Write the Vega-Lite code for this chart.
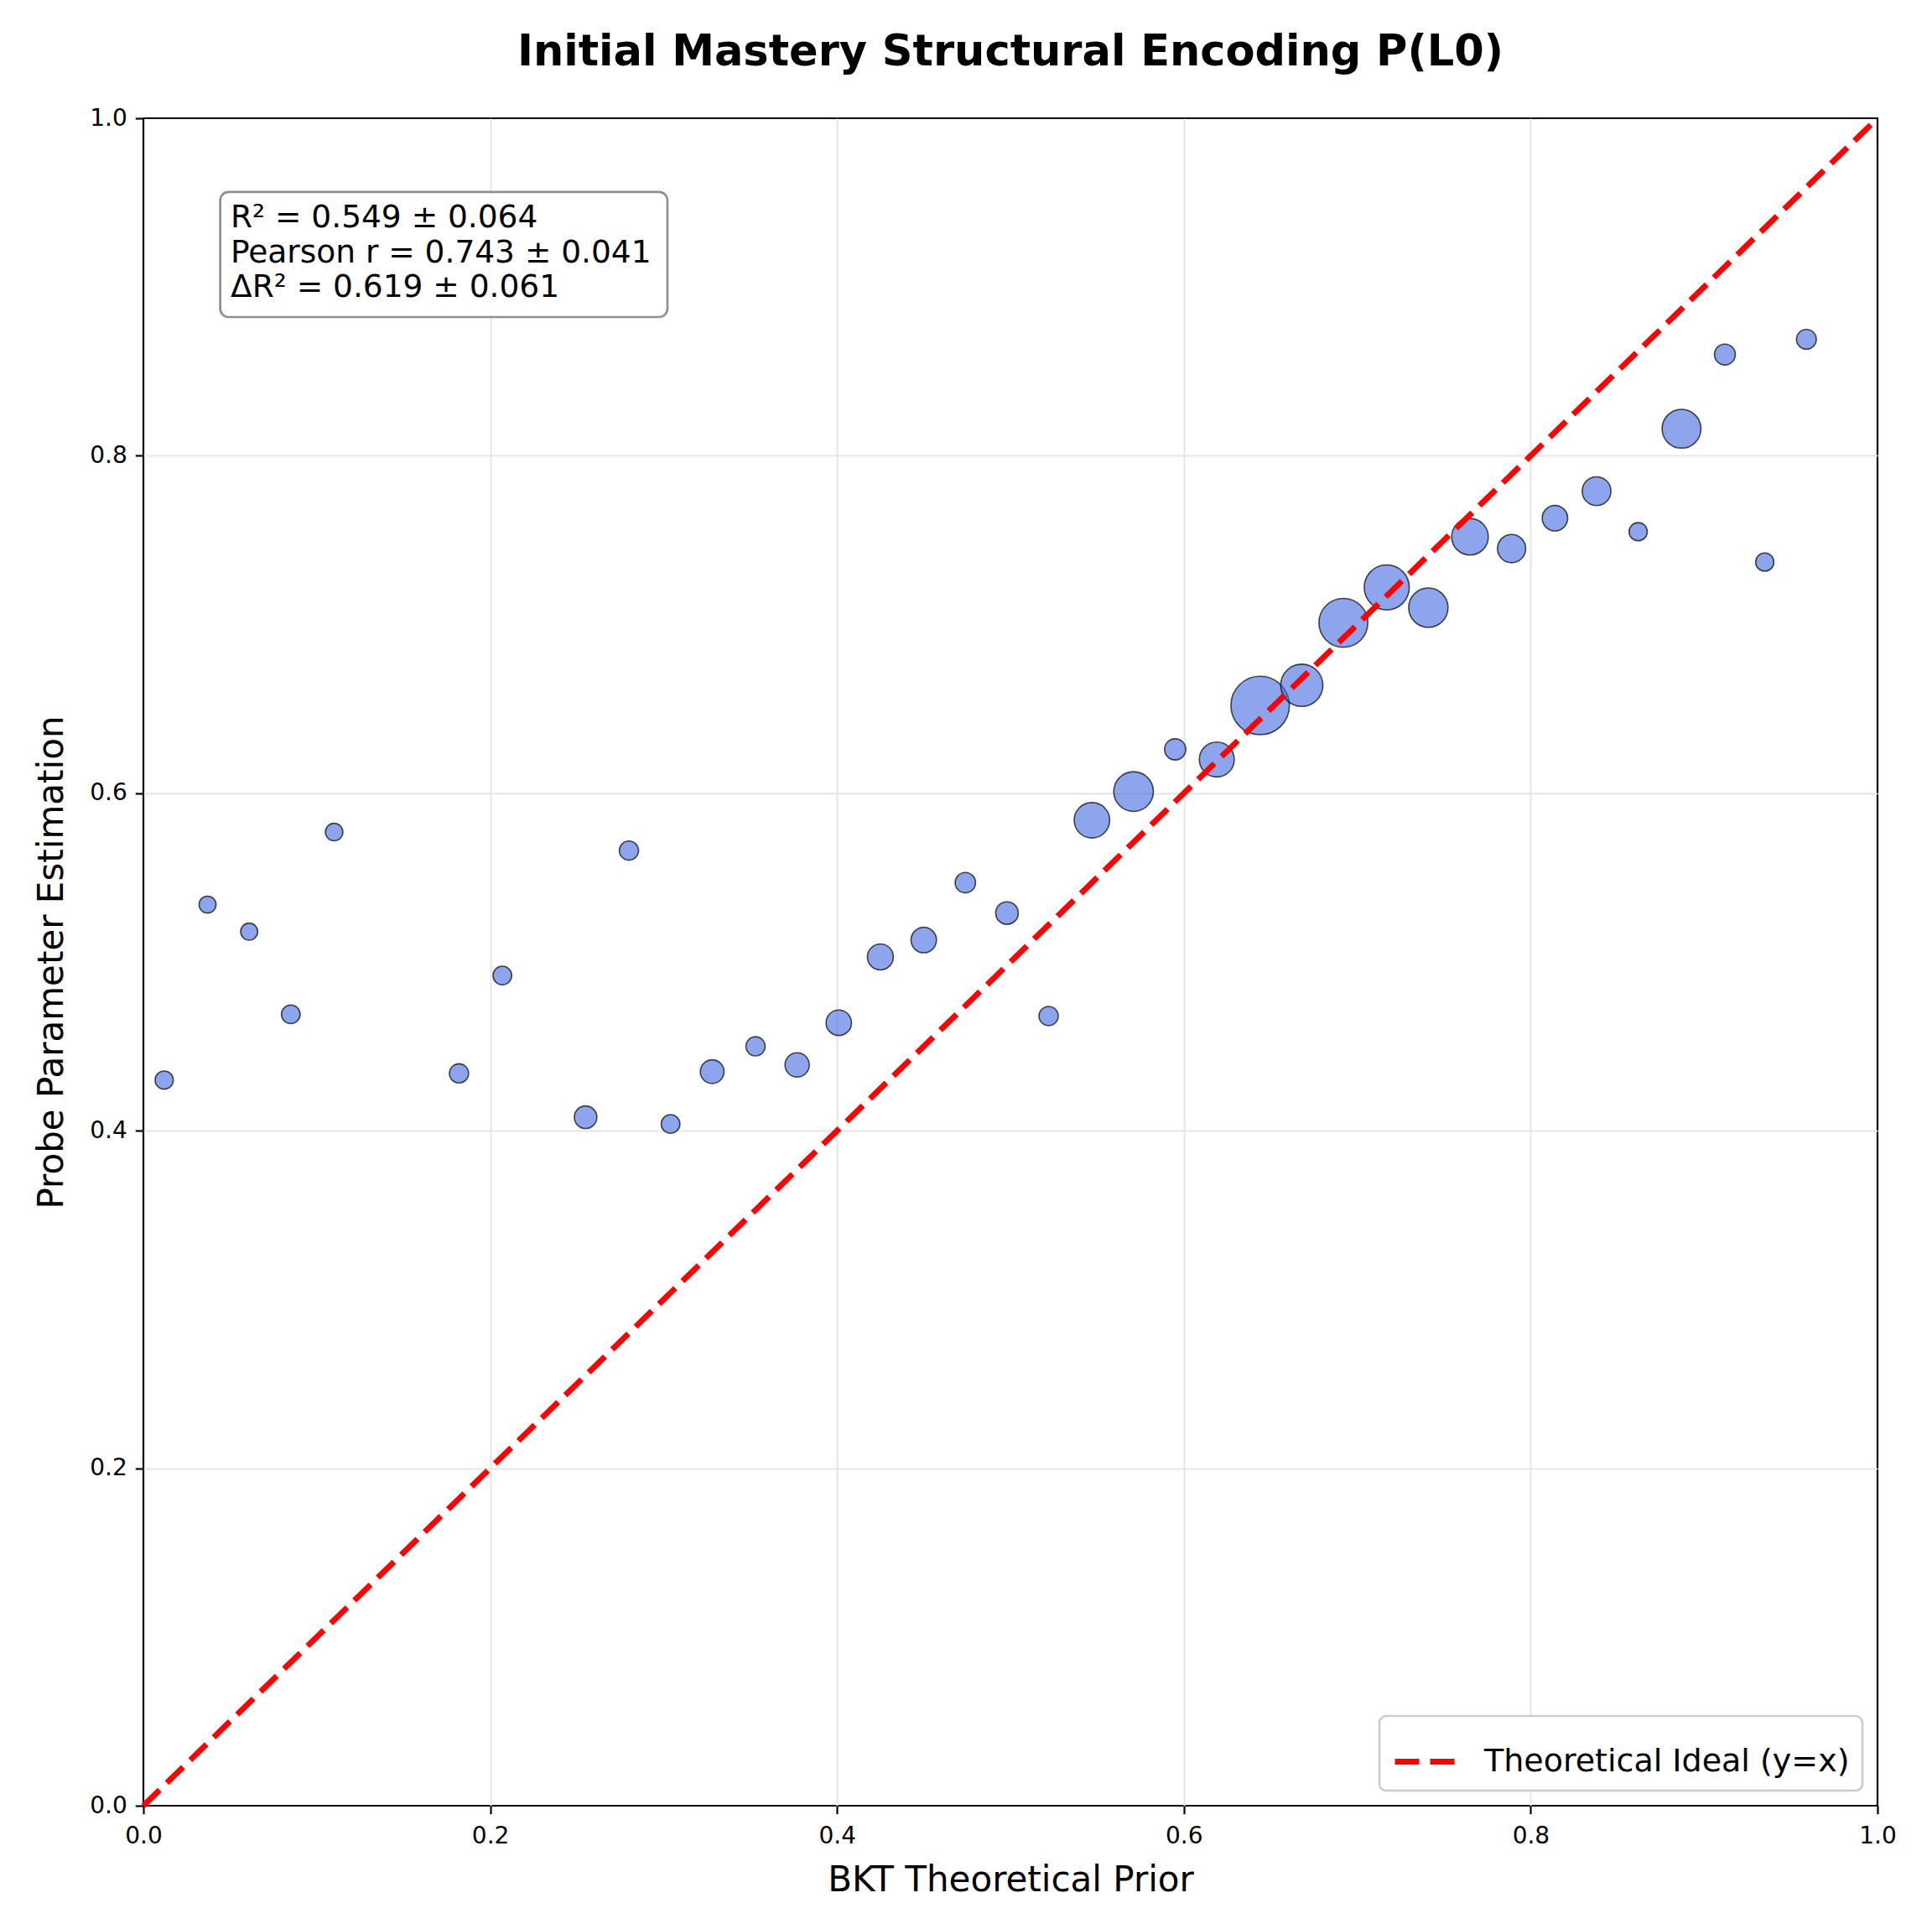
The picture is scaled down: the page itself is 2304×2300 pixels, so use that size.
{
  "$schema": "https://vega.github.io/schema/vega-lite/v6.json",
  "description": "Probe estimates of initial mastery P(L0) against the BKT prior, with the y=x reference line.",
  "background": "white",
  "autosize": {"type": "none"},
  "padding": {"left": 171, "top": 141, "right": 65, "bottom": 147},
  "width": 2068,
  "height": 2012,
  "title": {
    "text": "Initial Mastery Structural Encoding P(L0)",
    "font": "DejaVu Sans",
    "fontSize": 51,
    "fontWeight": "bold",
    "color": "black",
    "anchor": "middle",
    "baseline": "alphabetic",
    "offset": -2
  },
  "config": {
    "font": "DejaVu Sans",
    "view": {"stroke": "black", "strokeWidth": 2.2},
    "axis": {
      "grid": true,
      "gridColor": "#e6e6e6",
      "gridWidth": 2,
      "gridOpacity": {"condition": {"test": "datum.value === 0 || datum.value === 1", "value": 0}, "value": 1},
      "domain": false,
      "tickColor": "black",
      "tickWidth": 2.2,
      "tickSize": 9.7,
      "labelFont": "DejaVu Sans",
      "labelFontSize": 28,
      "labelColor": "black",
      "labelFlush": false,
      "labelOverlap": false,
      "titleFont": "DejaVu Sans",
      "titleFontSize": 42,
      "titleFontWeight": "normal",
      "titleColor": "black"
    },
    "axisX": {"labelPadding": 13, "titleY": 101, "titleBaseline": "alphabetic"},
    "axisY": {"labelPadding": 10, "titleX": -97, "titleY": 1006, "titleBaseline": "alphabetic", "titleAngle": -90, "titleAlign": "center"},
    "legend": {"strokeWidth": 2.7}
  },
  "data": {
    "values": [
      {"prior": 0.012, "estimate": 0.430, "weight": 118},
      {"prior": 0.037, "estimate": 0.534, "weight": 103},
      {"prior": 0.061, "estimate": 0.518, "weight": 103},
      {"prior": 0.085, "estimate": 0.469, "weight": 124},
      {"prior": 0.110, "estimate": 0.577, "weight": 109},
      {"prior": 0.182, "estimate": 0.434, "weight": 131},
      {"prior": 0.207, "estimate": 0.492, "weight": 124},
      {"prior": 0.255, "estimate": 0.408, "weight": 181},
      {"prior": 0.280, "estimate": 0.566, "weight": 131},
      {"prior": 0.304, "estimate": 0.404, "weight": 124},
      {"prior": 0.328, "estimate": 0.435, "weight": 200},
      {"prior": 0.353, "estimate": 0.450, "weight": 131},
      {"prior": 0.377, "estimate": 0.439, "weight": 209},
      {"prior": 0.401, "estimate": 0.464, "weight": 230},
      {"prior": 0.425, "estimate": 0.503, "weight": 239},
      {"prior": 0.450, "estimate": 0.513, "weight": 230},
      {"prior": 0.474, "estimate": 0.547, "weight": 148},
      {"prior": 0.498, "estimate": 0.529, "weight": 181},
      {"prior": 0.522, "estimate": 0.468, "weight": 131},
      {"prior": 0.547, "estimate": 0.584, "weight": 447},
      {"prior": 0.571, "estimate": 0.601, "weight": 559},
      {"prior": 0.595, "estimate": 0.626, "weight": 160},
      {"prior": 0.619, "estimate": 0.620, "weight": 435},
      {"prior": 0.644, "estimate": 0.652, "weight": 1215},
      {"prior": 0.668, "estimate": 0.664, "weight": 633},
      {"prior": 0.692, "estimate": 0.701, "weight": 850},
      {"prior": 0.717, "estimate": 0.722, "weight": 721},
      {"prior": 0.741, "estimate": 0.710, "weight": 550},
      {"prior": 0.765, "estimate": 0.752, "weight": 477},
      {"prior": 0.789, "estimate": 0.745, "weight": 284},
      {"prior": 0.814, "estimate": 0.763, "weight": 230},
      {"prior": 0.838, "estimate": 0.779, "weight": 294},
      {"prior": 0.862, "estimate": 0.755, "weight": 118},
      {"prior": 0.887, "estimate": 0.816, "weight": 536},
      {"prior": 0.912, "estimate": 0.860, "weight": 155},
      {"prior": 0.935, "estimate": 0.737, "weight": 118},
      {"prior": 0.959, "estimate": 0.869, "weight": 140}
    ]
  },
  "layer": [
    {
      "mark": {
        "type": "circle",
        "fill": "royalblue",
        "fillOpacity": 0.6,
        "stroke": "black",
        "strokeOpacity": 0.7,
        "strokeWidth": 1.6
      },
      "encoding": {
        "x": {"field": "prior", "type": "quantitative", "title": "BKT Theoretical Prior",
              "scale": {"domain": [0, 1], "nice": false, "zero": true},
              "axis": {"values": [0, 0.2, 0.4, 0.6, 0.8, 1], "format": ".1f"}},
        "y": {"field": "estimate", "type": "quantitative", "title": "Probe Parameter Estimation",
              "scale": {"domain": [0, 1], "nice": false, "zero": true},
              "axis": {"values": [0, 0.2, 0.4, 0.6, 0.8, 1], "format": ".1f"}},
        "size": {"field": "weight", "type": "quantitative", "legend": null,
                 "scale": {"type": "linear", "domain": [0, 1000], "range": [0, 4000]}}
      }
    },
    {
      "data": {"values": [{"prior": 0, "estimate": 0}, {"prior": 1, "estimate": 1}]},
      "mark": {
        "type": "line",
        "strokeWidth": 6.9,
        "strokeDash": [27, 12],
        "strokeCap": "butt"
      },
      "encoding": {
        "x": {"field": "prior", "type": "quantitative", "title": "BKT Theoretical Prior"},
        "y": {"field": "estimate", "type": "quantitative", "title": "Probe Parameter Estimation"},
        "stroke": {
          "datum": "Theoretical Ideal (y=x)",
          "type": "nominal",
          "scale": {"range": ["red"]},
          "legend": {
            "title": null,
            "orient": "bottom-right",
            "offset": 18,
            "padding": 15,
            "fillColor": "white",
            "strokeColor": "#cccccc",
            "cornerRadius": 8,
            "labelFont": "DejaVu Sans",
            "labelFontSize": 38,
            "labelColor": "black",
            "labelLimit": 1000,
            "labelOffset": 31,
            "symbolType": "stroke",
            "symbolSize": 5184,
            "symbolStrokeWidth": 6.9,
            "symbolDash": [29, 13],
            "symbolStrokeColor": "red"
          }
        }
      }
    },
    {
      "data": {"values": [{}]},
      "mark": {
        "type": "rect",
        "fill": "white",
        "fillOpacity": 0.8,
        "stroke": "#909090",
        "strokeWidth": 2.7,
        "cornerRadius": 10
      },
      "encoding": {
        "x": {"datum": 0.0443, "type": "quantitative", "title": "BKT Theoretical Prior"},
        "x2": {"datum": 0.3022},
        "y": {"datum": 0.9563, "type": "quantitative", "title": "Probe Parameter Estimation"},
        "y2": {"datum": 0.8822}
      }
    },
    {
      "data": {"values": [{}]},
      "mark": {
        "type": "text",
        "align": "left",
        "baseline": "alphabetic",
        "font": "DejaVu Sans",
        "fontSize": 37.5,
        "lineHeight": 41.7,
        "color": "black"
      },
      "encoding": {
        "x": {"datum": 0.0503, "type": "quantitative", "title": "BKT Theoretical Prior"},
        "y": {"datum": 0.9354, "type": "quantitative", "title": "Probe Parameter Estimation"},
        "text": {"value": ["R² = 0.549 ± 0.064", "Pearson r = 0.743 ± 0.041", "ΔR² = 0.619 ± 0.061"]}
      }
    }
  ]
}
